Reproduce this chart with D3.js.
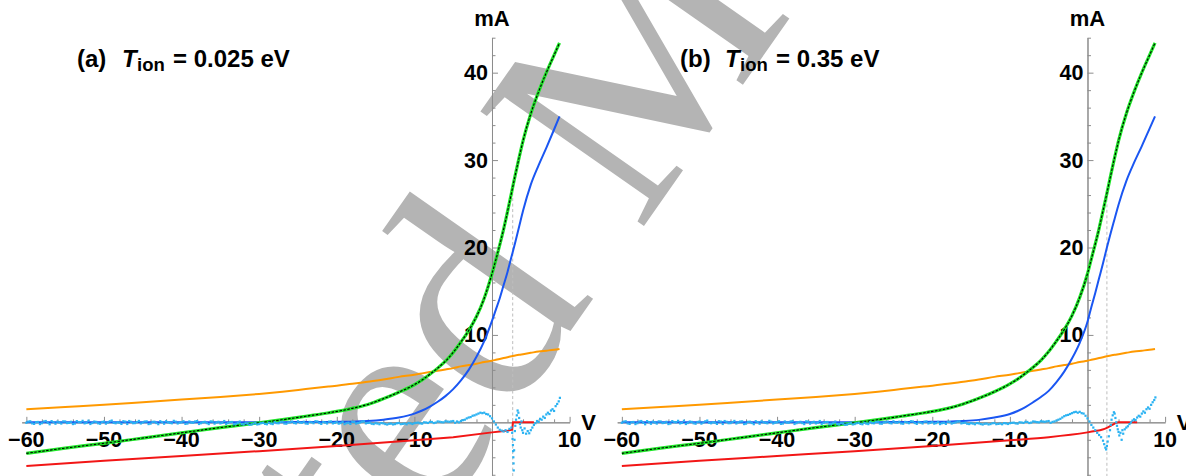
<!DOCTYPE html>
<html>
<head>
<meta charset="utf-8">
<script src="https://cdn.jsdelivr.net/npm/d3@7"></script>
<style>
  html, body { margin: 0; padding: 0; background: #fff; overflow: hidden; }
  text { font-family: "Liberation Sans", Arial, sans-serif; }
</style>
</head>
<body>
<svg id="chart" width="1186" height="476"></svg>
<script>
// ---------- data: probe I–V characteristics (current in mA vs bias in V) ----------

// common voltage grid of the smooth curves
const gridV = [-60, -55, -50, -45, -40, -35, -30, -27, -24, -21, -18, -16, -14, -12, -10, -9, -8, -7, -6, -5,
               -4, -3, -2, -1, 0, 0.5, 1, 1.5, 2, 2.5, 3, 3.5, 4, 5, 6, 7, 8, 8.7];

// total current (measured points and fit coincide)
const totalA = [-3.55, -2.95, -2.4, -1.8, -1.2, -0.6, -0.05, 0.3, 0.7, 1.1, 1.6, 2.05, 2.7, 3.45, 4.3, 4.85, 5.5, 6.2, 7.0, 8.0,
                9.2, 10.5, 12.1, 14.2, 17.0, 18.6, 20.3, 22.1, 24.1, 26.2, 28.3, 30.3, 32.2, 35.3, 37.8, 40.0, 42.0, 43.4];
const totalB = [-3.55, -2.95, -2.4, -1.8, -1.2, -0.6, -0.05, 0.3, 0.7, 1.1, 1.6, 2.1, 2.75, 3.5, 4.4, 4.95, 5.6, 6.3, 7.1, 8.1,
                9.3, 10.6, 12.2, 14.3, 17.0, 18.7, 20.4, 22.2, 24.2, 26.2, 28.3, 30.3, 32.2, 35.3, 37.8, 40.0, 42.0, 43.4];

// electron current
const electronA = [0, 0, 0, 0, 0, 0, 0.01, 0.02, 0.03, 0.05, 0.08, 0.15, 0.3, 0.55, 1.0, 1.35, 1.8, 2.35, 3.0, 3.8,
                   4.8, 6.0, 7.5, 9.3, 11.6, 12.9, 14.2, 15.7, 17.2, 18.9, 20.6, 22.4, 24.2, 27.2, 29.4, 31.4, 33.5, 35.0];
const electronB = [0, 0, 0, 0, 0, 0, 0.01, 0.02, 0.03, 0.05, 0.08, 0.15, 0.28, 0.55, 0.95, 1.3, 1.75, 2.3, 2.9, 3.6,
                   4.6, 5.8, 7.3, 9.1, 11.5, 13.2, 14.8, 16.5, 18.2, 20.0, 21.7, 23.3, 24.9, 27.6, 29.7, 31.6, 33.6, 35.0];

// ion-side contribution (orange)
const ionA = [1.5, 1.75, 2.0, 2.3, 2.6, 2.9, 3.25, 3.5, 3.8, 4.1, 4.4, 4.65, 4.9, 5.2, 5.45, 5.6, 5.75, 5.9, 6.05, 6.2,
              6.4, 6.55, 6.7, 6.9, 7.05, 7.15, 7.25, 7.35, 7.45, 7.55, 7.65, 7.72, 7.8, 7.95, 8.1, 8.2, 8.3, 8.4];
const ionB = [1.5, 1.75, 2.0, 2.3, 2.6, 2.9, 3.25, 3.5, 3.8, 4.1, 4.4, 4.65, 4.9, 5.2, 5.45, 5.6, 5.75, 5.9, 6.05, 6.2,
              6.4, 6.55, 6.7, 6.9, 7.05, 7.15, 7.25, 7.35, 7.45, 7.55, 7.65, 7.72, 7.8, 7.95, 8.1, 8.2, 8.3, 8.4];

// red component, its own voltage samples
const redVA = [-60, -50, -40, -30, -20, -10, -5, 0, 1, 2, 2.6, 2.7, 5.4];
const redA  = [-5.0, -4.4, -3.85, -3.3, -2.7, -2.05, -1.7, -1.15, -1.05, -0.95, -0.85, 0, 0];
const redVB = [-60, -50, -40, -30, -20, -10, -5, 0, 1, 1.6, 2.2, 2.7, 3.2, 3.6, 4.0, 6.4];
const redB  = [-5.0, -4.4, -3.85, -3.3, -2.7, -2.05, -1.7, -1.15, -1.0, -0.9, -0.75, -0.55, -0.3, -0.1, 0, 0];

// fit residuals, flat part (same measurement in both panels):
// residFlat at -60, -59.5, ..., -5 V; residFlatMid at -59.75, -59.25, ..., -5.25 V
const residFlatStart = -60, residFlatMidStart = -59.75, residFlatStep = 0.5;
const residFlat = [
  -0.05, 0.12, -0.18, 0.04, -0.1, 0.15, -0.22, 0.02, 0.08, -0.14,
  0.1, -0.06, -0.2, 0.14, 0.0, -0.12, 0.18, -0.08, 0.05, -0.16,
  0.09, -0.03, 0.2, -0.11, -0.04, 0.13, -0.19, 0.06, -0.09, 0.16,
  -0.02, 0.11, -0.15, 0.07, -0.21, 0.03, 0.12, -0.07, 0.17, -0.13,
  0.01, -0.18, 0.1, -0.05, 0.14, -0.1, 0.06, -0.2, 0.08, -0.02,
  -0.12, 0.15, -0.08, 0.04, -0.17, 0.09, -0.24, -0.14, -0.26, -0.1,
  -0.2, -0.06, -0.22, -0.15, 0.02, -0.11, 0.07, -0.16, 0.0, -0.08,
  0.12, -0.05, -0.13, 0.05, -0.1, 0.1, -0.18, -0.03, 0.08, -0.12,
  0.02, -0.09, -0.2, -0.05, 0.06, -0.14, -0.02, 0.11, -0.07, -0.16,
  -0.1, -0.22, -0.12, -0.25, -0.15, -0.2, -0.08, -0.18, -0.22, -0.12,
  -0.1, -0.04, -0.15, -0.02, 0.05, -0.08, 0.1, 0.02, 0.12, 0.06, 0.15
];
const residFlatMid = [
  0.08, -0.12, 0.02, -0.2, 0.1, -0.05, 0.14, -0.16, -0.02, 0.11,
  -0.09, 0.06, -0.14, 0.03, 0.17, -0.07, -0.19, 0.09, -0.11, 0.04,
  -0.15, 0.12, -0.06, 0.01, -0.18, 0.08, 0.15, -0.1, 0.03, -0.13,
  0.09, -0.2, 0.05, -0.08, 0.13, -0.16, 0.0, -0.11, 0.07, -0.04,
  0.12, -0.14, -0.03, 0.1, -0.19, 0.02, -0.09, 0.11, -0.15, 0.06,
  -0.05, -0.18, 0.03, -0.22, -0.08, -0.2, -0.12, -0.28, -0.16, -0.24,
  -0.1, -0.18, -0.04, -0.2, -0.09, 0.04, -0.14, -0.02, 0.09, -0.12,
  -0.03, 0.07, -0.16, -0.01, 0.13, -0.08, 0.04, -0.13, 0.1, -0.06,
  -0.15, 0.05, -0.1, -0.18, 0.02, -0.07, 0.08, -0.12, -0.04, -0.2,
  -0.14, -0.08, -0.2, -0.17, -0.24, -0.11, -0.21, -0.14, -0.09, -0.19,
  -0.06, -0.12, 0.0, -0.07, 0.04, -0.03, 0.07, 0.0, 0.09, 0.11
];

// fit residuals near the knee, [V, mA]
const residKneeA = [
  [-4.75, -0.05], [-4.5, 0.1], [-4.25, 0.0], [-4.0, 0.15], [-3.75, 0.25], [-3.5, 0.3], [-3.25, 0.45], [-3.0, 0.55],
  [-2.75, 0.6], [-2.5, 0.75], [-2.25, 0.8], [-2.0, 0.9], [-1.75, 1.0], [-1.5, 1.1], [-1.25, 1.05], [-1.0, 1.1],
  [-0.75, 0.95], [-0.5, 0.9], [-0.25, 0.7], [0.0, 0.45], [0.25, 0.1], [0.5, -0.25], [0.75, -0.6], [1.0, -0.85],
  [1.25, -0.95], [1.5, -1.05], [1.75, -0.9], [2.0, -1.1], [2.25, -0.75], [2.5, -0.6], [2.6, -1.2], [2.65, -1.9],
  [2.7, -2.6], [2.72, -3.3], [2.75, -4.0], [2.78, -4.7], [2.8, -5.5], [2.85, -3.2], [2.9, -2.0], [2.95, -1.0],
  [3.0, -0.4], [3.1, 0.3], [3.2, 0.8], [3.3, 1.35], [3.4, 1.1], [3.5, 0.5], [3.6, -0.2], [3.7, -0.6],
  [3.8, 0.1], [3.9, -0.9], [4.0, -1.2], [4.2, -0.7], [4.4, -1.3], [4.6, -1.0], [4.8, -1.25], [5.0, -0.9],
  [5.2, -0.6], [5.4, -0.3], [5.6, -0.1], [5.8, 0.15], [6.0, 0.05], [6.2, 0.4], [6.4, 0.3], [6.6, 0.65],
  [6.8, 0.5], [7.0, 0.9], [7.2, 1.1], [7.4, 0.95], [7.6, 1.35], [7.8, 1.5], [8.0, 1.3], [8.2, 1.85],
  [8.4, 2.1], [8.6, 2.4], [8.75, 2.8]
];
const residKneeB = [
  [-4.75, -0.05], [-4.5, 0.05], [-4.25, 0.1], [-4.0, 0.2], [-3.75, 0.3], [-3.5, 0.4], [-3.25, 0.55], [-3.0, 0.7],
  [-2.75, 0.8], [-2.5, 0.85], [-2.25, 0.95], [-2.0, 1.05], [-1.75, 1.15], [-1.5, 1.2], [-1.25, 1.1], [-1.0, 1.2],
  [-0.75, 1.05], [-0.5, 1.0], [-0.25, 0.75], [0.0, 0.45], [0.25, 0.1], [0.5, -0.3], [0.75, -0.6], [1.0, -0.9],
  [1.25, -1.2], [1.5, -1.45], [1.75, -1.7], [2.0, -2.1], [2.15, -2.5], [2.3, -2.9], [2.4, -3.1], [2.5, -2.7],
  [2.6, -2.2], [2.75, -1.6], [2.9, -0.9], [3.0, -0.3], [3.1, 0.3], [3.25, 0.8], [3.4, 1.15], [3.5, 1.0],
  [3.6, 0.5], [3.7, 0.0], [3.8, -0.4], [3.9, -0.8], [4.0, -1.1], [4.1, -1.5], [4.25, -1.2], [4.4, -2.0],
  [4.5, -0.9], [4.6, -1.3], [4.8, -0.8], [5.0, -0.6], [5.2, -0.45], [5.4, -0.2], [5.6, 0.0], [5.8, 0.2],
  [6.0, 0.35], [6.2, 0.25], [6.4, 0.55], [6.6, 0.75], [6.8, 0.65], [7.0, 1.0], [7.2, 1.25], [7.4, 1.1],
  [7.6, 1.5], [7.8, 1.7], [8.0, 1.55], [8.2, 2.0], [8.4, 2.3], [8.6, 2.55], [8.75, 2.85]
];

// plasma potential marked by a dashed line
const plasmaPotential = [2.67, 2.5];

// panel captions
const panelLetters = ["(a)", "(b)"];
const ionTemps = ["0.025 eV", "0.35 eV"];

// axes
const xMajorTicks = [-60, -50, -40, -30, -20, -10, 10];
const xTickLabels = ["\u221260", "\u221250", "\u221240", "\u221230", "\u221220", "\u221210", "10"];
const yMajorTicks = [10, 20, 30, 40];
const yTickLabels = ["10", "20", "30", "40"];

// ---------- drawing ----------
const W = 1186, H = 476;
const svg = d3.select("#chart");

const colors = {
  axis: "#8c8c8c",
  orange: "#ff9900",
  red: "#f21616",
  blue: "#1a56f2",
  green: "#1ee628",
  black: "#000000",
  resid: "#2ab2f2",
  plasma: "#bdbdbd",
  watermark: "#b4b4b4"
};

// background watermark lettering
const wmSize = 305;
const wm = svg.append("text")
  .style("font-family", "'Liberation Serif', 'DejaVu Serif', serif")
  .attr("font-size", wmSize)
  .attr("fill", colors.watermark)
  .text("Accepted Manuscript");
const dStart = wm.node().getStartPositionOfChar(7).x;
wm.attr("transform", `translate(494,318) rotate(-55) translate(${-(dStart + 0.25 * wmSize)},${0.23 * wmSize})`);

const panels = [
  { dx: 0, titleX: 77, total: totalA, electron: electronA, ion: ionA, redV: redVA, red: redA, knee: residKneeA },
  { dx: 595.5, titleX: 680, total: totalB, electron: electronB, ion: ionB, redV: redVB, red: redB, knee: residKneeB }
];

panels.forEach((p, pi) => {
  const g = svg.append("g").attr("transform", `translate(${p.dx},0)`);
  const x = d3.scaleLinear().domain([-60.6, 10]).range([21.7, 569.6]);
  const y = d3.scaleLinear().domain([-6.3, 44]).range([477.4, 37.7]);

  // x axis: minor ticks every 2 V, major every 10 V
  const xMinor = d3.range(-60, 10.001, 2).filter(v => v % 10 !== 0);
  const xAx = g.append("g").attr("transform", `translate(0,${y(0)})`);
  xAx.append("g").call(d3.axisTop(x).tickValues(xMinor).tickSize(3).tickSizeOuter(0).tickFormat(""));
  xAx.append("g").call(d3.axisTop(x).tickValues(xMajorTicks).tickSize(5.5).tickSizeOuter(0).tickFormat(""));
  // y axis: minor ticks every 2 mA, major every 10 mA
  const yMinor = d3.range(-6, 44.001, 2).filter(v => v % 10 !== 0);
  const yAx = g.append("g").attr("transform", `translate(${x(0)},0)`);
  yAx.append("g").call(d3.axisRight(y).tickValues(yMinor).tickSize(3.5).tickSizeOuter(0).tickFormat(""));
  yAx.append("g").call(d3.axisRight(y).tickValues(yMajorTicks).tickSize(6).tickSizeOuter(0).tickFormat(""));
  g.selectAll(".domain, .tick line").attr("stroke", colors.axis).attr("stroke-width", 1);

  // tick labels
  g.selectAll(".xlab").data(xMajorTicks).join("text")
    .attr("x", d => x(d)).attr("y", y(0) + 25)
    .attr("text-anchor", "middle").attr("font-size", 21.5).attr("font-weight", "bold")
    .text((d, i) => xTickLabels[i]);
  g.selectAll(".ylab").data(yMajorTicks).join("text")
    .attr("x", x(0) - 4).attr("y", d => y(d) + 7.5)
    .attr("text-anchor", "end").attr("font-size", 21.5).attr("font-weight", "bold")
    .text((d, i) => yTickLabels[i]);
  g.append("text").attr("x", x(0)).attr("y", 26).attr("text-anchor", "middle")
    .attr("font-size", 22).attr("font-weight", "bold").text("mA");
  g.append("text").attr("x", x(10) + 19).attr("y", y(0) + 8).attr("text-anchor", "middle")
    .attr("font-size", 22).attr("font-weight", "bold").text("V");

  // panel caption
  const t = g.append("text").attr("x", p.titleX - p.dx).attr("y", 67).attr("font-size", 24).attr("font-weight", "bold");
  t.append("tspan").text(panelLetters[pi]);
  t.append("tspan").attr("x", p.titleX - p.dx + 45).attr("font-style", "italic").text("T");
  t.append("tspan").attr("x", p.titleX - p.dx + 60).attr("dy", 4).attr("font-size", 18.5).text("ion");
  t.append("tspan").attr("x", p.titleX - p.dx + 96).attr("dy", -4).text("= " + ionTemps[pi]);

  // plasma potential marker, from the total current curve down past the axis
  const vp = plasmaPotential[pi];
  const k = d3.bisectLeft(gridV, vp);
  const f = (vp - gridV[k - 1]) / (gridV[k] - gridV[k - 1]);
  const iTop = p.total[k - 1] + f * (p.total[k] - p.total[k - 1]);
  g.append("line").attr("x1", x(vp)).attr("x2", x(vp)).attr("y1", y(iTop)).attr("y2", H)
    .attr("stroke", colors.plasma).attr("stroke-width", 1).attr("stroke-dasharray", "3,2.5");

  const line = d3.line().x(d => x(d[0])).y(d => y(d[1])).curve(d3.curveMonotoneX);
  const zipGrid = arr => gridV.map((v, i) => [v, arr[i]]);

  g.append("path").datum(zipGrid(p.ion)).attr("d", line)
    .attr("fill", "none").attr("stroke", colors.orange).attr("stroke-width", 2);
  g.append("path").datum(p.redV.map((v, i) => [v, p.red[i]]))
    .attr("d", d3.line().x(d => x(d[0])).y(d => y(d[1])).curve(pi === 0 ? d3.curveLinear : d3.curveMonotoneX))
    .attr("fill", "none").attr("stroke", colors.red).attr("stroke-width", 2);
  g.append("path").datum(zipGrid(p.electron)).attr("d", line)
    .attr("fill", "none").attr("stroke", colors.blue).attr("stroke-width", 2);
  g.append("path").datum(zipGrid(p.total)).attr("d", line)
    .attr("fill", "none").attr("stroke", colors.green).attr("stroke-width", 3.2);
  g.append("path").datum(zipGrid(p.total)).attr("d", line)
    .attr("fill", "none").attr("stroke", colors.black).attr("stroke-width", 1.1).attr("stroke-dasharray", "2.5,1.5");

  // residual points
  const resid = residFlat.map((r, i) => [residFlatStart + i * residFlatStep, r])
    .concat(residFlatMid.map((r, i) => [residFlatMidStart + i * residFlatStep, r]))
    .concat(p.knee);
  g.selectAll(".res").data(resid).join("rect")
    .attr("x", d => x(d[0]) - 1.1).attr("y", d => y(d[1]) - 1.1)
    .attr("width", 2.2).attr("height", 2.2).attr("fill", colors.resid);
});
</script>
</body>
</html>
